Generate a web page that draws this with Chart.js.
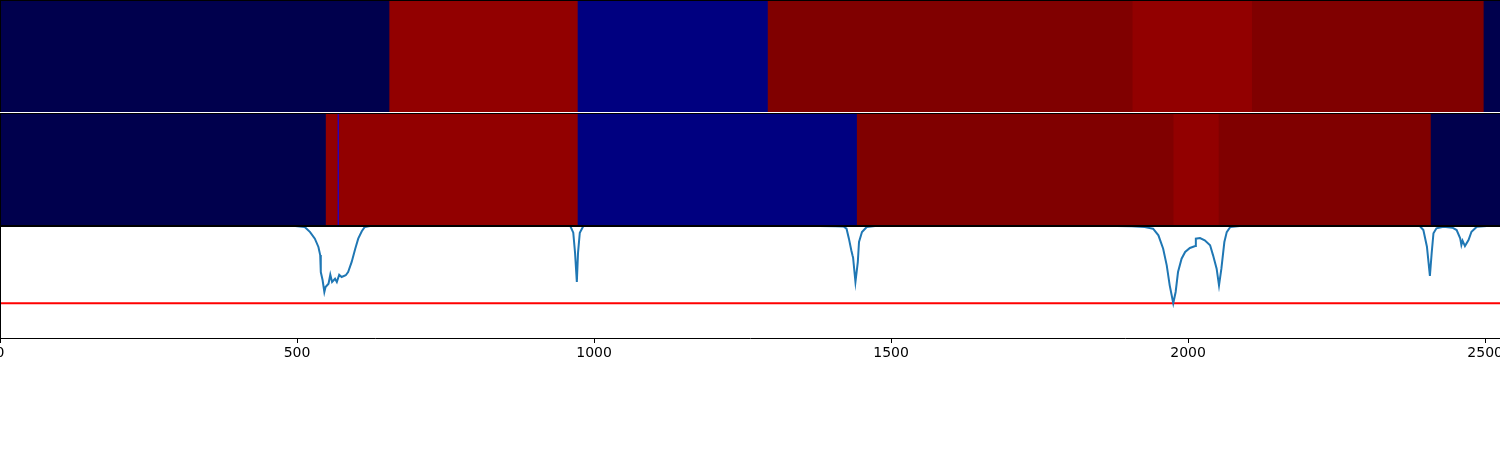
<!DOCTYPE html>
<html>
<head>
<meta charset="utf-8">
<script src="https://cdn.jsdelivr.net/npm/chart.js@4/dist/chart.umd.min.js"></script>
<style>
    html, body { margin: 0; padding: 0; background: #ffffff; overflow: hidden; }
    #wrap { position: absolute; left: -20px; top: 0; width: 1540px; height: 450px; }
    #wrap canvas { position: absolute; left: 0; }
    #heatTop { top: 0; }
    #heatBottom { top: 113px; }
    #spectrum { top: 226px; }
</style>
</head>
<body>
<div id="wrap">
    <canvas id="heatTop" width="1540" height="112"></canvas>
    <canvas id="heatBottom" width="1540" height="113"></canvas>
    <canvas id="spectrum" width="1540" height="142"></canvas>
</div>
<script>
// x 범위
const xMin = 0;
const xMax = 2525;
const xTicks = [0, 500, 1000, 1500, 2000, 2500];

// 첫 번째 행: 구간 경계와 값 (0~1, seismic 컬러맵)
const topEdges = [0, 656, 973, 1293, 1907, 2108, 2498, 2525];
const topValues = [0, 0.964, 0.072, 1.0, 0.964, 1.0, 0];

// 두 번째 행
const bottomEdges = [0, 549, 569.0, 570.7, 973, 1443, 1976, 2052, 2409, 2525];
const bottomValues = [0, 0.964, 0.25, 0.964, 0.072, 1.0, 0.964, 1.0, 0];

// 스펙트럼 곡선
const specX = [
    0, 497, 513, 522, 530, 536, 539, 540, 543, 546, 548, 553, 556, 559, 564, 567, 571, 575, 582, 586,
    592, 598, 603, 609, 614, 623,
    960, 965, 968, 971, 973, 976, 982,
    1380, 1406, 1420, 1425, 1429, 1433, 1435, 1436, 1440, 1444, 1446, 1451, 1459, 1473,
    1880, 1905, 1927, 1941, 1950, 1958, 1964, 1969, 1975, 1979, 1983, 1989, 1995, 2003, 2012, 2013,
    2020, 2028, 2037, 2042, 2048, 2052, 2056, 2061, 2065, 2071, 2087,
    2390, 2396, 2402, 2407, 2410, 2413, 2418, 2430, 2445, 2452, 2458, 2460, 2462, 2466, 2472, 2477,
    2486, 2503, 2525
];
const specY = [
    1.0, 1.0, 0.991, 0.946, 0.887, 0.813, 0.741, 0.589, 0.518, 0.411, 0.455, 0.485, 0.565, 0.5, 0.529, 0.5, 0.565, 0.545, 0.56, 0.589,
    0.679, 0.797, 0.887, 0.953, 0.991, 1.0,
    1.0, 0.94, 0.76, 0.5, 0.76, 0.94, 1.0,
    1.0, 0.997, 0.995, 0.976, 0.887, 0.783, 0.738, 0.72, 0.5, 0.679, 0.857, 0.946, 0.991, 1.0,
    1.0, 0.997, 0.99, 0.976, 0.917, 0.797, 0.649, 0.47, 0.31, 0.411, 0.589, 0.708, 0.768, 0.804, 0.821, 0.887,
    0.893, 0.872, 0.828, 0.738, 0.619, 0.47, 0.619, 0.857, 0.946, 0.991, 1.0,
    1.0, 0.964, 0.815, 0.554, 0.759, 0.935, 0.979, 0.994, 0.985, 0.964, 0.89, 0.83, 0.869, 0.821, 0.875, 0.949,
    0.994, 1.0, 1.0
];

// 기준선
const threshold = 0.31;

// seismic 컬러맵
const seismicStops = [
    [0.0, 0.0, 0.0, 0.3],
    [0.25, 0.0, 0.0, 1.0],
    [0.5, 1.0, 1.0, 1.0],
    [0.75, 1.0, 0.0, 0.0],
    [1.0, 0.5, 0.0, 0.0]
];

function seismic(v) {
    for (let i = 1; i < seismicStops.length; i++) {
        const a = seismicStops[i - 1];
        const b = seismicStops[i];
        if (v <= b[0]) {
            const t = (v - a[0]) / (b[0] - a[0]);
            const c = [1, 2, 3].map(k => Math.round((a[k] + (b[k] - a[k]) * t) * 255));
            return 'rgb(' + c.join(',') + ')';
        }
    }
    return 'rgb(128,0,0)';
}

// 축 테두리 (matplotlib spines 흉내)
const framePlugin = {
    id: 'frame',
    afterDraw(chart, args, opts) {
        const { ctx, chartArea: a } = chart;
        const sides = opts.sides || [];
        ctx.save();
        ctx.strokeStyle = '#000000';
        ctx.lineWidth = 1;
        ctx.beginPath();
        if (sides.includes('top')) { ctx.moveTo(a.left, a.top + 0.5); ctx.lineTo(a.right, a.top + 0.5); }
        if (sides.includes('bottom')) { ctx.moveTo(a.left, a.bottom - 0.5); ctx.lineTo(a.right, a.bottom - 0.5); }
        if (sides.includes('left')) { ctx.moveTo(a.left + 0.5, a.top); ctx.lineTo(a.left + 0.5, a.bottom); }
        ctx.stroke();
        ctx.restore();
    }
};

// 히트맵 행 생성
function createHeatRow(canvasId, edges, values, sides) {
    const segments = values.map((v, i) => ({ x: [edges[i], edges[i + 1]], y: 'row' }));
    return new Chart(document.getElementById(canvasId), {
        type: 'bar',
        data: {
            labels: ['row'],
            datasets: [{
                data: segments,
                backgroundColor: values.map(seismic),
                borderWidth: 0,
                barPercentage: 1,
                categoryPercentage: 1
            }]
        },
        options: {
            indexAxis: 'y',
            responsive: false,
            animation: false,
            layout: { padding: { left: 20, right: 20, top: 0, bottom: 0 } },
            plugins: {
                legend: { display: false },
                tooltip: { enabled: false },
                frame: { sides: sides }
            },
            scales: {
                x: { type: 'linear', min: xMin, max: xMax, display: false },
                y: { type: 'category', display: false }
            }
        },
        plugins: [framePlugin]
    });
}

// 스펙트럼 차트
function createSpectrum(canvasId) {
    const points = specX.map((x, i) => ({ x: x, y: specY[i] }));
    return new Chart(document.getElementById(canvasId), {
        type: 'line',
        data: {
            datasets: [
                {
                    data: points,
                    borderColor: '#1f77b4',
                    borderWidth: 2,
                    pointRadius: 0,
                    tension: 0
                },
                {
                    data: [{ x: xMin, y: threshold }, { x: xMax, y: threshold }],
                    borderColor: '#ff0000',
                    borderWidth: 2,
                    pointRadius: 0
                }
            ]
        },
        options: {
            responsive: false,
            animation: false,
            layout: { padding: { left: 20, right: 20, top: 0, bottom: 0 } },
            plugins: {
                legend: { display: false },
                tooltip: { enabled: false },
                frame: { sides: ['top', 'left'] }
            },
            scales: {
                x: {
                    type: 'linear',
                    min: xMin,
                    max: xMax,
                    afterBuildTicks: scale => {
                        scale.ticks = xTicks.map(v => ({ value: v }));
                    },
                    afterFit: scale => {
                        scale.height = 30;
                    },
                    grid: {
                        drawOnChartArea: false,
                        drawTicks: true,
                        tickLength: 5,
                        tickColor: '#000000'
                    },
                    border: { display: true, color: '#000000', width: 1 },
                    ticks: {
                        color: '#000000',
                        padding: 2,
                        maxRotation: 0,
                        autoSkip: false,
                        font: { family: 'DejaVu Sans', size: 14 },
                        callback: v => String(v)
                    }
                },
                y: { min: 0, max: 1, display: false }
            }
        },
        plugins: [framePlugin]
    });
}

createHeatRow('heatTop', topEdges, topValues, ['top', 'left']);
createHeatRow('heatBottom', bottomEdges, bottomValues, ['top', 'left', 'bottom']);
createSpectrum('spectrum');
</script>
</body>
</html>
